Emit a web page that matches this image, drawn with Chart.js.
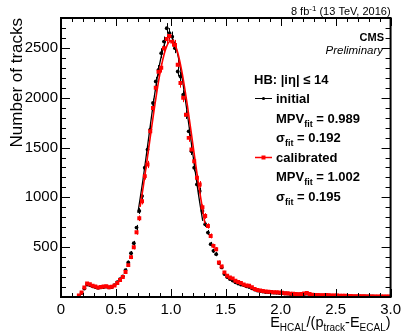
<!DOCTYPE html>
<html>
<head>
<meta charset="utf-8">
<script src="https://cdn.jsdelivr.net/npm/chart.js@4.4.0/dist/chart.umd.min.js"></script>
<style>
    html, body { margin: 0; padding: 0; background: #fff; }
</style>
</head>
<body>
<canvas id="trackChart" width="405" height="334"></canvas>
<script>
// histogram binning: 120 bins of 0.025 between 0 and 3
const binStart = 0;
const binWidth = 0.025;

// counts per bin (null = empty bin)
const initialCounts = [
    null, null, null, null, null, null,
    10, 40, 85, 125, 120, 108, 100, 92, 96, 100, 104, 96, 100, 120,
    150, 180, 207, 270, 347, 440, 540, 697, 863, 1013,
    1297, 1480, 1680, 1947, 2163, 2280, 2447, 2563, 2697, 2647,
    2613, 2497, 2263, 2213, 2030, 1830, 1663, 1463, 1297, 1130,
    1063, 863, 730, 647, 530, 463, 430, 340, 297, 230,
    200, 180, 165, 147, 135, 125, 120, 108, 100, 88,
    75, 65, 60, 55, 50, 48, 45, 43, 42, 40,
    38, 35, 33, 30, 28, 27, 25, 27, 30, 33,
    27, 22, 18, 18, 17, 16, 17, 15, 14, 13,
    13, 12, 11, 10, 9, 8, 7, 7, 6, 6,
    6, 5, 5, 5, 4, 4, 4, 4, 4, 4
];

const calibratedCounts = [
    null, null, null, null, null, null,
    15, 45, 95, 135, 128, 112, 105, 95, 100, 105, 107, 98, 102, 115,
    140, 170, 200, 250, 320, 400, 500, 650, 790, 960,
    1213, 1330, 1663, 1897, 2100, 2260, 2300, 2497, 2590, 2620,
    2563, 2530, 2330, 2147, 2000, 1830, 1597, 1480, 1363, 1197,
    1130, 900, 813, 713, 613, 513, 480, 347, 307, 247,
    213, 195, 187, 163, 150, 140, 125, 115, 113, 97,
    80, 70, 65, 60, 55, 53, 50, 48, 47, 45,
    42, 38, 37, 34, 32, 30, 28, 30, 36, 40,
    30, 24, 20, 20, 19, 18, 20, 17, 16, 15,
    15, 14, 13, 12, 10, 9, 8, 8, 7, 7,
    7, 6, 6, 6, 5, 5, 5, 5, 5, 5
];

// fit curves
const initialFitX = [0.70, 0.75, 0.80, 0.85, 0.90, 0.95, 0.99, 1.05, 1.10, 1.15, 1.20, 1.25, 1.29];
const initialFitY = [845, 1205, 1615, 2015, 2350, 2565, 2620, 2490, 2215, 1840, 1435, 1040, 765];
const calibratedFitX = [0.72, 0.75, 0.80, 0.85, 0.90, 0.95, 1.00, 1.05, 1.10, 1.15, 1.20, 1.25, 1.31];
const calibratedFitY = [905, 1115, 1505, 1895, 2240, 2480, 2570, 2495, 2265, 1925, 1535, 1145, 740];

// axes
const xTicks = [0, 0.5, 1, 1.5, 2, 2.5, 3];
const yTicks = [500, 1000, 1500, 2000, 2500];
const xMinorStep = 0.1;
const yMinorStep = 100;

const FONT = "'Liberation Sans', Arial, Helvetica, sans-serif";
const RED = '#ff0000';

function toPoints(counts) {
    return counts.map((v, i) => ({ x: binStart + (i + 0.5) * binWidth, y: v }));
}

function toLine(xs, ys) {
    return xs.map((x, i) => ({ x: x, y: ys[i] }));
}

// draws text made of parts, some of them sub/superscript
function richText(ctx, parts, x, y, size, opts) {
    opts = opts || {};
    const weight = opts.bold ? 'bold ' : '';
    const style = opts.italic ? 'italic ' : '';
    const small = Math.round(size * 0.72);
    const fontFor = p => style + weight + (p.sub || p.sup ? small : size) + 'px ' + FONT;
    let total = 0;
    parts.forEach(p => { ctx.font = fontFor(p); total += ctx.measureText(p.t).width; });
    let cx = opts.align === 'right' ? x - total : x;
    ctx.textBaseline = 'alphabetic';
    ctx.textAlign = 'left';
    parts.forEach(p => {
        ctx.font = fontFor(p);
        let dy = 0;
        if (p.sub) dy = size * 0.28;
        if (p.sup) dy = -size * 0.4;
        ctx.fillText(p.t, cx, y + dy);
        cx += ctx.measureText(p.t).width;
    });
}

const rootStyle = {
    id: 'rootStyle',
    beforeDatasetsDraw(chart) {
        const ctx = chart.ctx;
        const xs = chart.scales.x, ys = chart.scales.y;
        const area = chart.chartArea;
        ctx.save();
        ctx.beginPath();
        ctx.rect(area.left, area.top, area.right - area.left, area.bottom - area.top);
        ctx.clip();
        ctx.lineWidth = 1;
        chart.data.datasets.forEach(ds => {
            if (!ds.errorBars) return;
            ctx.strokeStyle = ds.borderColor;
            ds.data.forEach(p => {
                if (p.y === null) return;
                const err = Math.sqrt(p.y);
                const px = Math.round(xs.getPixelForValue(p.x)) + 0.5;
                const x0 = xs.getPixelForValue(p.x - binWidth / 2);
                const x1 = xs.getPixelForValue(p.x + binWidth / 2);
                const py = ys.getPixelForValue(p.y);
                ctx.beginPath();
                ctx.moveTo(px, ys.getPixelForValue(p.y + err));
                ctx.lineTo(px, ys.getPixelForValue(Math.max(0, p.y - err)));
                ctx.moveTo(x0, py);
                ctx.lineTo(x1, py);
                ctx.stroke();
            });
        });
        ctx.restore();
    },
    afterDraw(chart) {
        const ctx = chart.ctx;
        const xs = chart.scales.x, ys = chart.scales.y;
        const a = chart.chartArea;
        ctx.save();

        // frame
        ctx.strokeStyle = '#000';
        ctx.lineWidth = 2;
        ctx.strokeRect(a.left, a.top, a.right - a.left, a.bottom - a.top);

        // inward ticks, all four sides
        ctx.lineWidth = 1;
        ctx.beginPath();
        for (let v = 0; v <= 3.0001; v += xMinorStep) {
            const major = xTicks.some(t => Math.abs(t - v) < 1e-6);
            const len = major ? 8 : 4;
            const px = Math.round(xs.getPixelForValue(v)) + 0.5;
            ctx.moveTo(px, a.bottom);
            ctx.lineTo(px, a.bottom - len);
            ctx.moveTo(px, a.top);
            ctx.lineTo(px, a.top + len);
        }
        for (let v = 0; v <= 2800; v += yMinorStep) {
            const major = v % 500 === 0;
            const len = major ? 9 : 5;
            const py = Math.round(ys.getPixelForValue(v)) + 0.5;
            ctx.moveTo(a.left, py);
            ctx.lineTo(a.left + len, py);
            ctx.moveTo(a.right, py);
            ctx.lineTo(a.right - len, py);
        }
        ctx.stroke();

        ctx.fillStyle = '#000';

        // axis titles
        richText(ctx, [
            { t: 'E' }, { t: 'HCAL', sub: true }, { t: '/(p' }, { t: 'track', sub: true },
            { t: '-E' }, { t: 'ECAL', sub: true }, { t: ')' }
        ], a.right, 327, 14.5, { align: 'right' });

        ctx.save();
        ctx.translate(22, a.top);
        ctx.rotate(-Math.PI / 2);
        richText(ctx, [{ t: 'Number of tracks' }], 0, 0, 17, { align: 'right' });
        ctx.restore();

        // header and CMS label
        richText(ctx, [{ t: '8 fb' }, { t: '-1', sup: true }, { t: ' (13 TeV, 2016)' }], a.right, 15, 11, { align: 'right' });
        richText(ctx, [{ t: 'CMS' }], 384, 41, 11, { align: 'right', bold: true });
        richText(ctx, [{ t: 'Preliminary' }], 383, 54, 11.5, { align: 'right', italic: true });

        // legend block
        const lx = 254, tx = 276;
        richText(ctx, [{ t: 'HB: |i\u03B7| \u2264 14' }], lx, 84, 13, { bold: true });
        richText(ctx, [{ t: 'initial' }], tx, 103, 13, { bold: true });
        richText(ctx, [{ t: 'MPV' }, { t: 'fit', sub: true }, { t: ' = 0.989' }], tx, 123, 13, { bold: true });
        richText(ctx, [{ t: '\u03C3' }, { t: 'fit', sub: true }, { t: ' = 0.192' }], tx, 142, 13, { bold: true });
        richText(ctx, [{ t: 'calibrated' }], tx, 162, 13, { bold: true });
        richText(ctx, [{ t: 'MPV' }, { t: 'fit', sub: true }, { t: ' = 1.002' }], tx, 181, 13, { bold: true });
        richText(ctx, [{ t: '\u03C3' }, { t: 'fit', sub: true }, { t: ' = 0.195' }], tx, 201, 13, { bold: true });

        // legend symbols
        ctx.lineWidth = 1;
        ctx.strokeStyle = '#000';
        ctx.beginPath();
        ctx.moveTo(255, 98.5);
        ctx.lineTo(272, 98.5);
        ctx.stroke();
        ctx.beginPath();
        ctx.arc(263.5, 98.5, 1.6, 0, Math.PI * 2);
        ctx.fill();
        ctx.strokeStyle = RED;
        ctx.fillStyle = RED;
        ctx.lineWidth = 1.5;
        ctx.beginPath();
        ctx.moveTo(255, 157.5);
        ctx.lineTo(272, 157.5);
        ctx.stroke();
        ctx.fillRect(261.5, 155.5, 4, 4);

        ctx.restore();
    }
};

const ctx = document.getElementById('trackChart');

new Chart(ctx, {
    type: 'scatter',
    data: {
        datasets: [
            {
                label: 'calibrated fit',
                data: toLine(calibratedFitX, calibratedFitY),
                showLine: true,
                borderColor: RED,
                borderWidth: 1.6,
                pointRadius: 0,
                cubicInterpolationMode: 'monotone'
            },
            {
                label: 'calibrated',
                data: toPoints(calibratedCounts),
                errorBars: true,
                showLine: false,
                borderColor: RED,
                backgroundColor: RED,
                pointStyle: 'rect',
                pointRadius: 2.8,
                pointBorderWidth: 0
            },
            {
                label: 'initial fit',
                data: toLine(initialFitX, initialFitY),
                showLine: true,
                borderColor: '#000',
                borderWidth: 1.3,
                pointRadius: 0,
                cubicInterpolationMode: 'monotone'
            },
            {
                label: 'initial',
                data: toPoints(initialCounts),
                errorBars: true,
                showLine: false,
                borderColor: '#000',
                backgroundColor: '#000',
                pointStyle: 'circle',
                pointRadius: 1.9,
                pointBorderWidth: 0
            }
        ]
    },
    options: {
        responsive: false,
        animation: false,
        events: [],
        layout: { padding: { left: 0, right: 5, top: 18, bottom: 0 } },
        plugins: {
            legend: { display: false },
            tooltip: { enabled: false }
        },
        scales: {
            x: {
                type: 'linear',
                min: 0,
                max: 3,
                grid: { display: false, drawTicks: false },
                border: { display: false },
                afterBuildTicks: s => { s.ticks = xTicks.map(v => ({ value: v })); },
                afterFit: s => { s.height = 37; },
                ticks: {
                    color: '#000',
                    padding: 4,
                    maxRotation: 0,
                    autoSkip: false,
                    font: { family: FONT, size: 15 }
                }
            },
            y: {
                type: 'linear',
                min: 0,
                max: 2800,
                grid: { display: false, drawTicks: false },
                border: { display: false },
                afterBuildTicks: s => { s.ticks = yTicks.map(v => ({ value: v })); },
                afterFit: s => { s.width = 61; },
                ticks: {
                    color: '#000',
                    padding: 3,
                    autoSkip: false,
                    font: { family: FONT, size: 15 },
                    callback: v => String(v)
                }
            }
        }
    },
    plugins: [rootStyle]
});
</script>
</body>
</html>
